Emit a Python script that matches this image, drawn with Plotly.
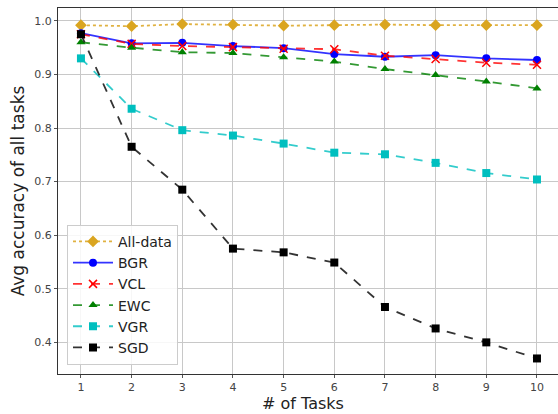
import plotly.graph_objects as go

tasks = [1, 2, 3, 4, 5, 6, 7, 8, 9, 10]
all_data = [0.992, 0.990, 0.994, 0.993, 0.991, 0.992, 0.993, 0.992, 0.992, 0.992]
bgr = [0.977, 0.958, 0.959, 0.953, 0.949, 0.938, 0.933, 0.936, 0.930, 0.927]
vcl = [0.975, 0.957, 0.953, 0.951, 0.948, 0.947, 0.935, 0.929, 0.922, 0.918]
ewc = [0.960, 0.950, 0.9415, 0.940, 0.932, 0.924, 0.910, 0.899, 0.887, 0.874]
vgr = [0.930, 0.836, 0.796, 0.786, 0.771, 0.754, 0.751, 0.735, 0.716, 0.704]
sgd = [0.975, 0.765, 0.685, 0.575, 0.568, 0.549, 0.466, 0.426, 0.400, 0.370]
y_ticks = [0.4, 0.5, 0.6, 0.7, 0.8, 0.9, 1.0]

series = [
    ("All-data", all_data, "rgba(218,165,32,0.85)", "#DAA520", "dot", "diamond", 9),
    ("BGR", bgr, "rgba(0,0,255,0.8)", "#0000FF", "solid", "circle", 8),
    ("VCL", vcl, "rgba(255,0,0,0.8)", "#FF0000", "dash", "x-thin-open", 8),
    ("EWC", ewc, "rgba(0,128,0,0.8)", "#008000", "dash", "triangle-up", 8),
    ("VGR", vgr, "rgba(0,191,191,0.8)", "#00BFBF", "dash", "square", 8),
    ("SGD", sgd, "rgba(0,0,0,0.8)", "#000000", "dash", "square", 8),
]

fig = go.Figure()
for name, vals, lc, mc, dash, sym, size in series:
    marker = dict(symbol=sym, size=size, color=mc)
    if sym == "x-thin-open":
        marker["line"] = dict(color=mc, width=1.5)
    fig.add_trace(go.Scatter(
        x=tasks, y=vals, name=name, mode="lines+markers",
        line=dict(color=lc, width=1.8, dash=dash),
        marker=marker,
    ))

fig.update_layout(
    width=558, height=414,
    margin=dict(l=58, r=0, t=8, b=40),
    paper_bgcolor="white", plot_bgcolor="white",
    font=dict(family="DejaVu Sans", color="#333333"),
    showlegend=True,
    legend=dict(
        x=0.018, y=0.025, xanchor="left", yanchor="bottom",
        bgcolor="rgba(255,255,255,0.85)", bordercolor="#cccccc", borderwidth=1,
        font=dict(size=14, color="#222222"),
        tracegroupgap=0, itemwidth=40,
    ),
    xaxis=dict(
        range=[0.547, 10.415], tickmode="array", tickvals=tasks,
        showgrid=True, gridcolor="#c8c8c8", gridwidth=1,
        showline=True, linecolor="#333333", linewidth=1.2, mirror=True,
        ticks="outside", ticklen=3, tickcolor="#555555",
        tickfont=dict(size=11, color="#444444"),
        automargin=False,
        zeroline=False,
    ),
    yaxis=dict(
        range=[0.341, 1.024], tickmode="array", tickvals=y_ticks,
        ticktext=[f"{v:.1f}" for v in y_ticks],
        showgrid=True, gridcolor="#c8c8c8", gridwidth=1,
        showline=True, linecolor="#333333", linewidth=1.2, mirror=False,
        ticks="outside", ticklen=3, tickcolor="#555555",
        tickfont=dict(size=11, color="#444444"),
        title=dict(text="Avg accuracy of all tasks", font=dict(size=17, color="#222222"), standoff=5),
        automargin=False,
        zeroline=False,
    ),
    annotations=[dict(
        text="# of Tasks", xref="paper", yref="paper", x=0.49, y=-0.08,
        xanchor="center", yanchor="middle", showarrow=False,
        font=dict(size=16, color="#222222"),
    )],
)

fig.write_html(
    "out.html",
    config={"displayModeBar": False},
    post_script="document.body.style.margin='0px';document.body.style.padding='0px';",
)
